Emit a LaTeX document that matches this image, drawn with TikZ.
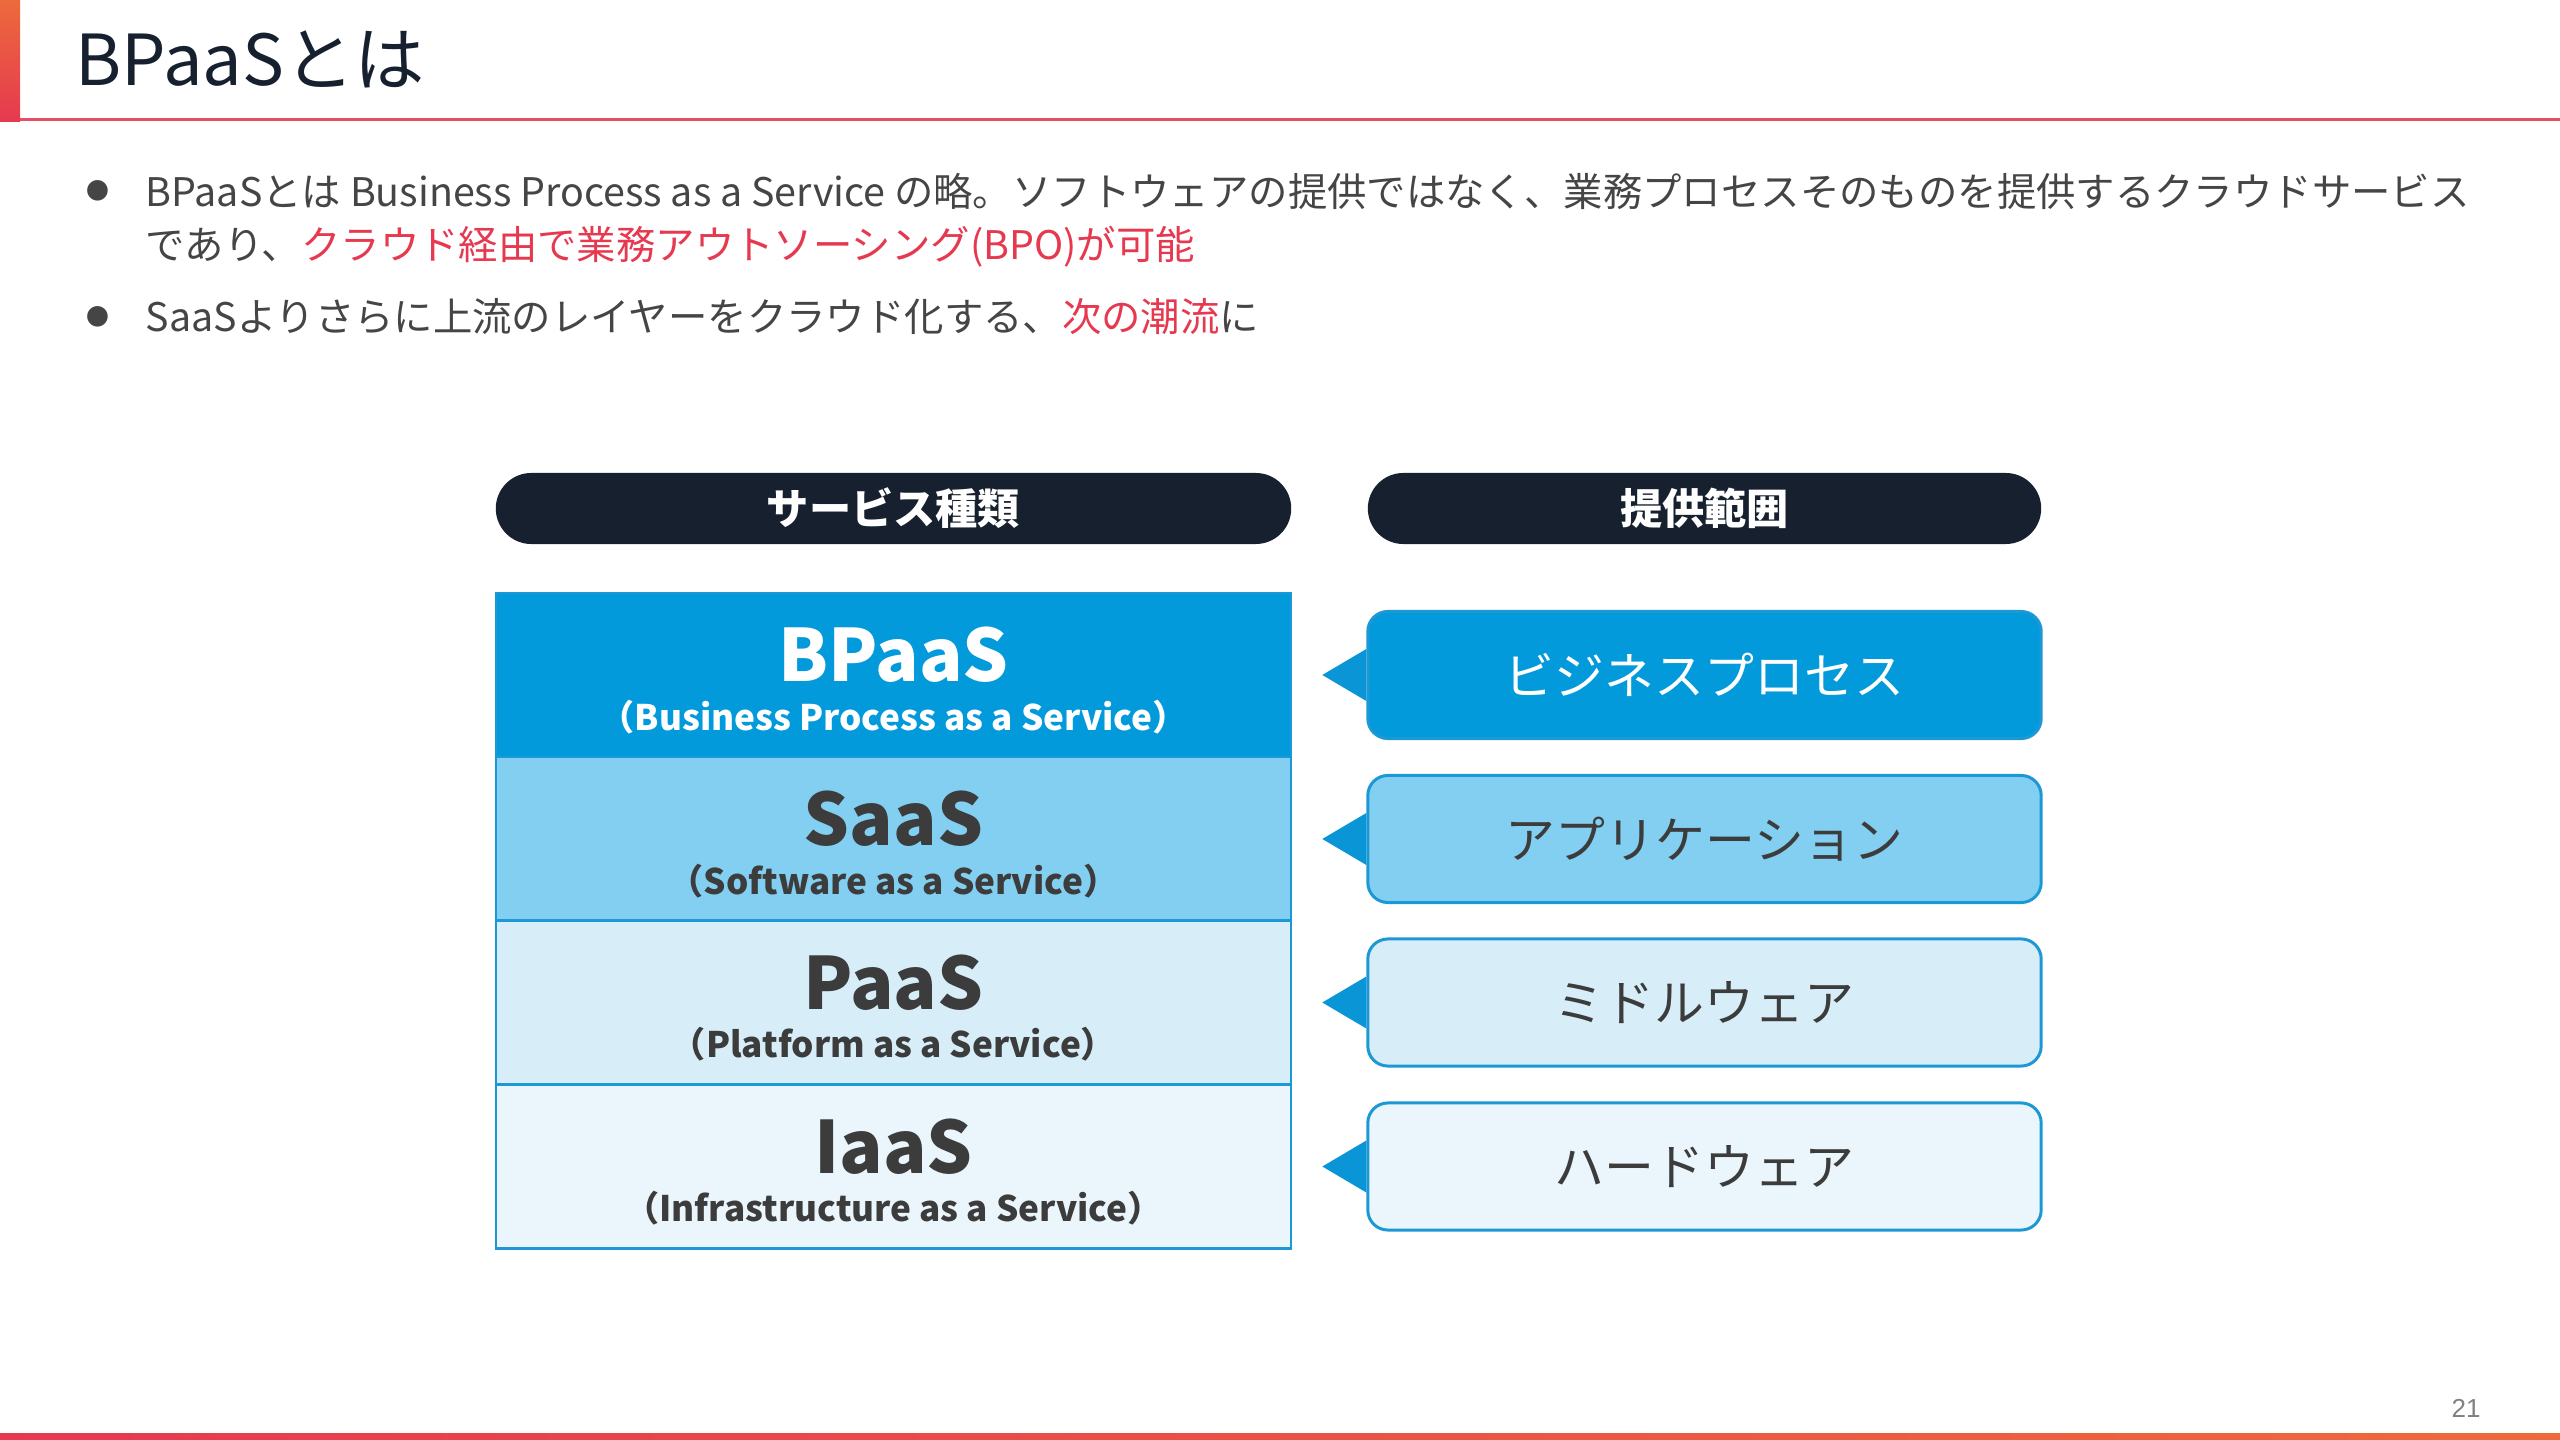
\documentclass[tikz,border=0pt]{standalone}
\usepackage{fontspec}
\setmainfont{Noto Sans CJK JP}
\newfontfamily\numfont{Liberation Sans}
\usetikzlibrary{positioning}
\definecolor{navy}{HTML}{16202E}
\definecolor{bpblue}{HTML}{039ADB}
\definecolor{sablue}{HTML}{82CFF1}
\definecolor{pablue}{HTML}{D7EEF9}
\definecolor{iablue}{HTML}{EAF6FC}
\definecolor{edgeblue}{HTML}{1C98D4}
\definecolor{tipblue}{HTML}{0A95D6}
\definecolor{darktext}{HTML}{3C3C3C}
\definecolor{bodygray}{HTML}{454545}
\definecolor{accentred}{HTML}{E63950}
\definecolor{accentorange}{HTML}{EC6A3C}

\begin{document}
\begin{tikzpicture}[
		x=0.01cm, y=-0.01cm,
		every node/.style={inner sep=0pt},
		pill/.style={rectangle, rounded corners=0.355cm, fill=navy, minimum height=0.71cm, text=white, font=\fontsize{12pt}{14pt}\selectfont\bfseries},
		layer/.style={rectangle, draw=edgeblue, line width=0.6pt, minimum width=7.95cm, minimum height=1.64cm},
		layername/.style={font=\fontsize{20.5pt}{24pt}\selectfont\bfseries},
		layerfull/.style={font=\fontsize{10pt}{12pt}\selectfont\bfseries},
		callout/.style={rectangle, rounded corners=0.2cm, draw=edgeblue, line width=0.85pt, minimum width=6.73cm, minimum height=1.27cm, font=\fontsize{14.2pt}{16pt}\selectfont},
		bullettext/.style={anchor=west, text=bodygray, font=\fontsize{11.2pt}{13pt}\selectfont},
		dot/.style={text=bodygray, font=\fontsize{6.5pt}{7pt}\selectfont}
	]
	\useasboundingbox (0,0) rectangle (2560,1440);

	% Header bar and rules
	\shade[top color=accentorange, bottom color=accentred] (0,0) rectangle (20,122);
	\draw[accentred!90!white, line width=0.85pt] (20,120) -- (2560,120);
	\shade[left color=accentred, right color=accentorange] (0,1433) rectangle (2560,1440);
	\node[anchor=west, text=navy, font=\fontsize{20pt}{24pt}\selectfont] (title) at (75,59) {BPaaSとは};

	% Bullets
	\node[dot] (dot1) at (98,191) {●};
	\node[bullettext] (b1) at (145,191) {BPaaSとは Business Process as a Service の略。ソフトウェアの提供ではなく、業務プロセスそのものを提供するクラウドサービス};
	\node[bullettext] (b1b) at (145,247) {であり、\textcolor{accentred}{クラウド経由で業務アウトソーシング(BPO)が可能}};
	\node[dot] (dot2) at (98,317) {●};
	\node[bullettext] (b2) at (145,317) {SaaSよりさらに上流のレイヤーをクラウド化する、\textcolor{accentred}{次の潮流}に};

	% Column headers
	\node[pill, minimum width=7.95cm] (kind) at (893.5,508.5) {サービス種類};
	\node[pill, minimum width=6.73cm] (scope) at (1704.5,508.5) {提供範囲};

	% Layers and what each one provides
	\foreach \n/\y/\col/\tcol/\abbr/\full/\scopetxt in {
			bp/675/bpblue/white/BPaaS/Business Process as a Service/ビジネスプロセス,
			sa/839/sablue/darktext/SaaS/Software as a Service/アプリケーション,
			pa/1002.5/pablue/darktext/PaaS/Platform as a Service/ミドルウェア,
			ia/1166.5/iablue/darktext/IaaS/Infrastructure as a Service/ハードウェア}{
			\node[layer, fill=\col] (\n) at (893.5,\y) {};
			\node[layername, text=\tcol] (\n-name) at (893.5,\y-20) {\abbr};
			\node[layerfull, text=\tcol] (\n-full) at (893.5,\y+42) {（\full）};
			\node[callout, fill=\col, text=\tcol] (\n-scope) at (1704.5,\y) {\scopetxt};
			\fill[tipblue] (\n-scope.west) ++(0,-26) -- ++(-44,26) -- ++(44,26) -- cycle;
		}

	% Page number
	\node[text=gray, font=\numfont\fontsize{7.4pt}{9pt}\selectfont] (pagenum) at (2466,1408) {21};

\end{tikzpicture}
\end{document}
